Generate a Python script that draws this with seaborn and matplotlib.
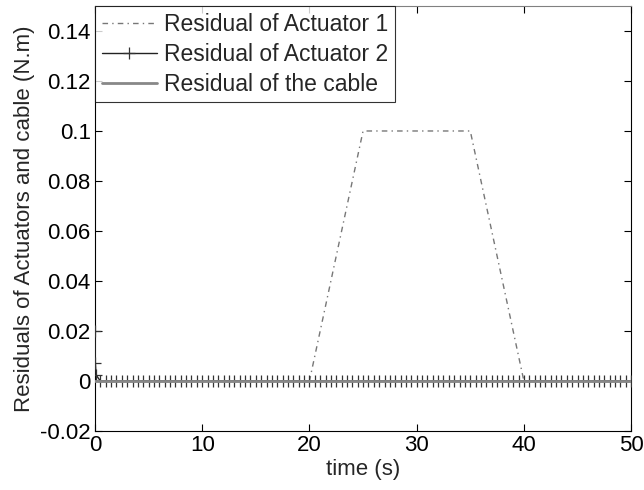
import numpy as np
import pandas as pd
import matplotlib
matplotlib.use("Agg")
import matplotlib.pyplot as plt
import seaborn as sns

# Actuator 1 residual: trapezoid (breakpoints)
t_act1 = [0, 20, 25, 35, 40, 50]
r_act1 = [0.0, 0.0, 0.1, 0.1, 0.0, 0.0]

# Actuator 2 residual: initial spike then zero, sampled every 0.5 s
t_act2_start = [0.0, 0.03, 0.1]
r_act2_start = [0.02, 0.0072, 0.0024]
t_act2_rest = list(np.arange(0.5, 50.01, 0.5))
r_act2_rest = [0.0] * len(t_act2_rest)
t_act2 = t_act2_start + t_act2_rest
r_act2 = r_act2_start + r_act2_rest

# Cable residual: zero throughout
t_cable = [0, 50]
r_cable = [0.0, 0.0]

yticks = [-0.02, 0, 0.02, 0.04, 0.06, 0.08, 0.1, 0.12, 0.14]
ytick_labels = ['-0.02', '0', '0.02', '0.04', '0.06', '0.08', '0.1', '0.12', '0.14']
xticks = [0, 10, 20, 30, 40, 50]

sns.set_style("white")
plt.rcParams['font.family'] = ['Liberation Sans', 'DejaVu Sans']

fig = plt.figure(figsize=(6.44, 4.9), dpi=100)
ax = fig.add_axes([0.1475, 0.1204, 0.8325, 0.8674])

df1 = pd.DataFrame({'t': t_act1, 'r': r_act1})
df2 = pd.DataFrame({'t': t_act2, 'r': r_act2})
df3 = pd.DataFrame({'t': t_cable, 'r': r_cable})

sns.lineplot(data=df1, x='t', y='r', ax=ax, color='#777777', lw=1,
             linestyle=(0, (4, 3, 1, 3)), label='Residual of Actuator 1', zorder=3)
sns.lineplot(data=df2, x='t', y='r', ax=ax, color='#222222', lw=1,
             marker='+', markersize=9, markeredgewidth=0.9,
             markeredgecolor='#333333', markerfacecolor='#333333',
             label='Residual of Actuator 2', zorder=4)
sns.lineplot(data=df3, x='t', y='r', ax=ax, color='#888888', lw=2.0,
             label='Residual of the cable', zorder=5)

ax.set_xlim(0, 50)
ax.set_ylim(-0.02, 0.15)
ax.set_xticks(xticks)
ax.set_xticklabels([str(x) for x in xticks])
ax.set_yticks(yticks)
ax.set_yticklabels(ytick_labels)
ax.tick_params(direction='in', length=5, width=0.8, labelsize=16,
               top=True, right=True, left=True, bottom=True, colors='black',
               labelcolor='black', pad=3)
for s in ax.spines.values():
    s.set_color('black')
    s.set_linewidth(0.8)
ax.spines['top'].set_color('#808080')
ax.set_xlabel('time (s)', fontsize=16, labelpad=2)
ax.set_ylabel('Residuals of Actuators and cable (N.m)', fontsize=16, labelpad=4)

handles, labels = ax.get_legend_handles_labels()
order = ['Residual of Actuator 1', 'Residual of Actuator 2', 'Residual of the cable']
hmap = dict(zip(labels, handles))
leg = ax.legend([hmap[o] for o in order], order, loc='upper left', fontsize=16.5,
                frameon=True, fancybox=False,
                borderaxespad=0, handlelength=2.4, handletextpad=0.3,
                borderpad=0.3, labelspacing=0.3)
leg.get_frame().set_edgecolor('black')
leg.get_frame().set_linewidth(0.8)
leg.set_zorder(10)

fig.savefig('out.png', dpi=100)
